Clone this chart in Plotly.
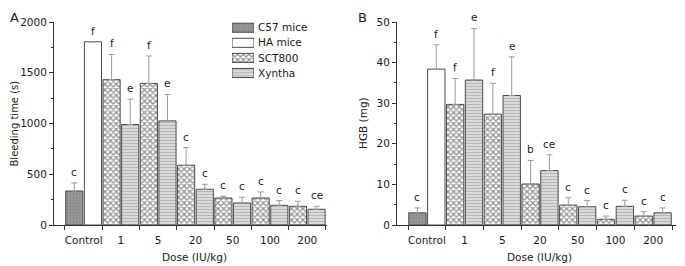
import plotly.graph_objects as go

# ---------------- data ----------------
groups = ["Control", "1", "5", "20", "50", "100", "200"]
doses = ["1", "5", "20", "50", "100", "200"]
legend_names = ["C57 mice", "HA mice", "SCT800", "Xyntha"]

# Panel A: bleeding time (s)
bt_c57, bt_c57_err, bt_c57_lab = [335], [80], ["c"]
bt_ha, bt_ha_err, bt_ha_lab = [1805], [0], ["f"]
bt_sct = [1432, 1395, 589, 266, 266, 184]
bt_sct_err = [248, 270, 174, 17, 60, 50]
bt_sct_lab = ["f", "f", "c", "c", "c", "c"]
bt_xyn = [990, 1026, 352, 217, 194, 155]
bt_xyn_err = [250, 260, 49, 56, 46, 29]
bt_xyn_lab = ["e", "e", "c", "c", "c", "ce"]

# Panel B: HGB (mg)
hgb_c57, hgb_c57_err, hgb_c57_lab = [3.0], [1.2], ["c"]
hgb_ha, hgb_ha_err, hgb_ha_lab = [38.4], [6.0], ["f"]
hgb_sct = [29.7, 27.3, 10.1, 4.9, 1.4, 2.2]
hgb_sct_err = [6.4, 7.6, 5.8, 1.8, 0.8, 1.1]
hgb_sct_lab = ["f", "f", "b", "c", "c", "c"]
hgb_xyn = [35.7, 31.9, 13.4, 4.5, 4.6, 3.0]
hgb_xyn_err = [12.7, 9.5, 3.9, 1.5, 1.5, 1.2]
hgb_xyn_lab = ["e", "e", "ce", "c", "c", "c"]

x_title = "Dose (IU/kg)"
y_title_a = "Bleeding time (s)"
y_title_b = "HGB (mg)"

# ---------------- styles ----------------
FONT = "DejaVu Sans"
TXT = "#1a1a1a"
AX = "#333333"
OUTLINE = "#4a4a4a"
ERRC = "#9a9a9a"
styles = {
    "C57 mice": dict(color="#8e8e8e", pattern=dict(shape="+", fgcolor="#767676", bgcolor="#979797", size=3, solidity=0.3)),
    "HA mice": dict(color="#ffffff"),
    "SCT800": dict(color="#ffffff", pattern=dict(shape="x", fgcolor="#262626", bgcolor="#ffffff", size=4, solidity=0.55)),
    "Xyntha": dict(color="#d8d8d8", pattern=dict(shape="-", fgcolor="#8e8e8e", bgcolor="#dedede", size=3, solidity=0.4)),
}
BARW = 0.46
OFF = {"C57 mice": -0.25, "HA mice": 0.25, "SCT800": -0.25, "Xyntha": 0.25}

# page is 685x266 and the html body has an 8px margin
PAGE_W, PAGE_H, BODY = 685, 266, 8
W, H = PAGE_W - BODY, PAGE_H - BODY


def fx(px):  # page pixel x -> paper fraction
    return (px - BODY) / W


def fy(py):  # page pixel y -> paper fraction (from bottom)
    return (PAGE_H - py) / H


fig = go.Figure()
annotations = []


def add_series(name, cats, vals, errs, labs, xa, ya):
    xs = [groups.index(c) + OFF[name] for c in cats]
    st = styles[name]
    marker = dict(color=st["color"], line=dict(color=OUTLINE, width=1))
    if "pattern" in st:
        marker["pattern"] = st["pattern"]
    fig.add_trace(go.Bar(
        x=xs, y=vals, width=BARW, name=name, xaxis=xa, yaxis=ya, marker=marker,
        error_y=dict(type="data", symmetric=False, array=errs, arrayminus=[0] * len(errs),
                     color=ERRC, thickness=1, width=3, visible=True),
        showlegend=False, hoverinfo="skip"))
    for x, v, e, t in zip(xs, vals, errs, labs):
        annotations.append(dict(x=x, y=v + e, xref=xa, yref=ya, text=t, showarrow=False,
                                yanchor="bottom", yshift=3, font=dict(size=10.5, color=TXT, family=FONT)))


add_series("C57 mice", ["Control"], bt_c57, bt_c57_err, bt_c57_lab, "x", "y")
add_series("HA mice", ["Control"], bt_ha, bt_ha_err, bt_ha_lab, "x", "y")
add_series("SCT800", doses, bt_sct, bt_sct_err, bt_sct_lab, "x", "y")
add_series("Xyntha", doses, bt_xyn, bt_xyn_err, bt_xyn_lab, "x", "y")

add_series("C57 mice", ["Control"], hgb_c57, hgb_c57_err, hgb_c57_lab, "x2", "y2")
add_series("HA mice", ["Control"], hgb_ha, hgb_ha_err, hgb_ha_lab, "x2", "y2")
add_series("SCT800", doses, hgb_sct, hgb_sct_err, hgb_sct_lab, "x2", "y2")
add_series("Xyntha", doses, hgb_xyn, hgb_xyn_err, hgb_xyn_lab, "x2", "y2")

# legend drawn as an inset axis with swatch bars
for name in legend_names:
    st = styles[name]
    marker = dict(color=st["color"], line=dict(color=OUTLINE, width=1))
    if "pattern" in st:
        marker["pattern"] = st["pattern"]
    fig.add_trace(go.Bar(y=[name], x=[1], orientation="h", width=0.6, xaxis="x3", yaxis="y3",
                         marker=marker, showlegend=False, hoverinfo="skip"))

ydom = [fy(225), fy(22)]


def xaxis_cfg(dom, rng):
    return dict(domain=dom, range=rng, tickmode="array", tickvals=list(range(len(groups))),
                ticktext=groups, ticks="", showline=True, linecolor=AX, linewidth=1,
                showgrid=False, zeroline=False, ticklabelstandoff=5, automargin=False,
                tickfont=dict(size=10.5, color=TXT, family=FONT),
                minor=dict(tickmode="array", tickvals=[i - 0.5 for i in range(len(groups) + 1)],
                           ticks="outside", ticklen=4, tickcolor=AX, showgrid=False))


def yaxis_cfg(anchor, rng, dtick):
    return dict(domain=ydom, range=rng, anchor=anchor, dtick=dtick, ticks="outside", ticklen=4,
                tickcolor=AX, showline=True, linecolor=AX, linewidth=1, showgrid=False,
                zeroline=False, automargin=False, tickfont=dict(size=10.5, color=TXT, family=FONT),
                minor=dict(dtick=dtick / 2, ticks="outside", ticklen=2, tickcolor=AX, showgrid=False))


fig.update_layout(
    width=W, height=H, margin=dict(l=0, r=0, t=0, b=0, autoexpand=False),
    paper_bgcolor="white", plot_bgcolor="white", barmode="overlay", showlegend=False,
    font=dict(family=FONT, size=10, color=TXT),
    xaxis=dict(anchor="y", **xaxis_cfg([fx(54), fx(327)], [-0.795, 6.53])),
    yaxis=yaxis_cfg("x", [0, 2000], 500),
    xaxis2=dict(anchor="y2", **xaxis_cfg([fx(397), fx(676)], [-0.792, 6.606])),
    yaxis2=yaxis_cfg("x2", [0, 50], 10),
    xaxis3=dict(domain=[fx(232), fx(254)], range=[0, 1], anchor="y3", visible=False, automargin=False),
    yaxis3=dict(domain=[fy(80.5), fy(20.2)], type="category", autorange="reversed",
                anchor="x3", side="right", showline=False, ticks="", showgrid=False,
                zeroline=False, ticklabelstandoff=3, automargin=False,
                tickfont=dict(size=10.5, color=TXT, family=FONT)),
)

title_font = dict(size=10.5, color=TXT, family=FONT)
annotations += [
    dict(x=fx(194), y=fy(257), xref="paper", yref="paper", text=x_title, showarrow=False,
         xanchor="center", yanchor="middle", font=title_font),
    dict(x=fx(539), y=fy(257), xref="paper", yref="paper", text=x_title, showarrow=False,
         xanchor="center", yanchor="middle", font=title_font),
    dict(x=fx(14), y=fy(123.5), xref="paper", yref="paper", text=y_title_a, showarrow=False,
         textangle=-90, xanchor="center", yanchor="middle", font=dict(size=10, color=TXT, family=FONT)),
    dict(x=fx(363), y=fy(123), xref="paper", yref="paper", text=y_title_b, showarrow=False,
         textangle=-90, xanchor="center", yanchor="middle", font=title_font),
    dict(x=fx(8), y=1, xref="paper", yref="paper", text="A", showarrow=False,
         xanchor="left", yanchor="top", font=dict(size=13, color=TXT, family=FONT)),
    dict(x=fx(356), y=1, xref="paper", yref="paper", text="B", showarrow=False,
         xanchor="left", yanchor="top", font=dict(size=13, color=TXT, family=FONT)),
]
fig.update_layout(annotations=annotations)

fig.write_html("out.html")
